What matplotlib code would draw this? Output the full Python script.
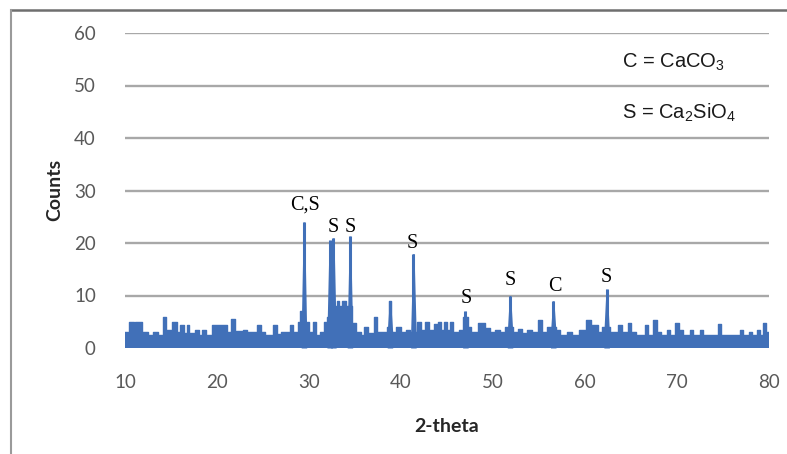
import matplotlib
matplotlib.use("Agg")
import matplotlib.pyplot as plt
from matplotlib.lines import Line2D

# noisy background of the pattern, as steps: level holds from one theta to the next
bg_theta = [10.0, 10.4, 11.0, 11.1, 11.9, 12.5, 13.0, 13.6, 14.1, 14.5, 15.1, 15.6,
            16.0, 16.4, 16.7, 17.0, 17.6, 18.0, 18.4, 18.8, 19.5, 21.1, 21.5, 22.0,
            22.8, 23.3, 24.3, 24.8, 25.2, 26.1, 26.5, 27.0, 27.9, 28.3, 28.8, 29.0,
            29.2, 29.8, 30.0, 30.4, 30.8, 31.2, 31.6, 31.8, 32.0, 32.8, 33.0, 33.3,
            33.6, 34.0, 34.7, 35.1, 35.6, 36.0, 36.4, 37.1, 37.4, 38.0, 38.5, 38.7,
            38.9, 39.5, 40.0, 40.5, 41.0, 41.7, 42.2, 42.6, 43.0, 43.6, 44.0, 44.3,
            44.7, 45.0, 45.3, 45.6, 46.3, 46.7, 47.3, 47.6, 48.4, 49.1, 49.7, 50.2,
            50.8, 51.3, 52.2, 52.7, 53.2, 53.7, 54.2, 54.9, 55.3, 55.9, 56.9, 57.3,
            58.0, 58.6, 59.3, 60.1, 60.6, 61.4, 61.9, 62.7, 63.6, 64.0, 64.7, 65.0,
            65.5, 66.5, 66.8, 67.4, 67.8, 68.3, 68.9, 69.2, 69.8, 70.2, 70.6, 71.4,
            71.7, 72.5, 72.8, 74.5, 74.8, 76.8, 77.2, 77.8, 78.2, 78.7, 79.0, 79.3,
            79.7, 80.0]
bg_counts = [3, 5, 4, 5, 3, 2.5, 3, 2.5, 6, 3.5, 5, 3,
             4.3, 2.8, 4.3, 2.8, 3.5, 2.5, 3.5, 2.5, 4.3, 3, 5.5, 3.2,
             3.5, 3, 4.4, 3, 2.5, 4.4, 2.7, 3, 4.4, 3, 5, 7,
             5, 5, 3, 5, 2.5, 3, 5, 4, 6, 8, 9, 8,
             9, 8, 4.8, 3, 2.5, 4, 2.8, 6, 3, 3, 4, 9,
             3, 4, 3, 3.5, 3, 5, 3.5, 5, 3.5, 4.5, 5, 3.5,
             5, 3.5, 5, 3, 3.5, 6, 4, 3, 4.7, 3.9, 3, 3.5,
             3, 4, 3, 3.6, 2.8, 3.5, 3, 5.3, 3, 4, 3.5, 2.5,
             3, 2.5, 3.5, 5.3, 4.4, 3, 4, 3, 4.4, 3, 4.7, 3,
             2.5, 4.4, 2.5, 5.3, 3, 2.5, 3.5, 2.5, 4.7, 3.5, 2.5, 3.5,
             2.5, 3.5, 2.5, 4.5, 2.5, 3.5, 2.5, 3, 2.5, 3.5, 2.5, 4.7,
             3, 3]

# sharp reflections
peak_theta = [29.45, 32.25, 32.65, 34.45, 38.8, 41.35, 47.0, 51.85, 56.55, 62.35]
peak_counts = [24, 20.5, 21, 21.3, 9, 18, 7, 10, 9, 11.2]

# phase labels over the peaks
label_text = ['C,S', 'S', 'S', 'S', 'S', 'S', 'C', 'S']
label_theta = [29.55, 32.6, 34.45, 41.25, 47.05, 51.9, 56.7, 62.3]
label_counts = [27.2, 23.0, 23.0, 20.0, 9.4, 12.8, 11.8, 13.4]

legend_lines = [r'C = CaCO$_\mathrm{3}$', r'S = Ca$_\mathrm{2}$SiO$_\mathrm{4}$']

xticks = [10, 20, 30, 40, 50, 60, 70, 80]
yticks = [0, 10, 20, 30, 40, 50, 60]

blue = '#4170b8'
grey_txt = '#595959'

plt.rcParams['mathtext.fontset'] = 'custom'
plt.rcParams['mathtext.rm'] = 'Liberation Sans'

fig = plt.figure(figsize=(7.87, 4.54), dpi=100)

# outer chart frame, cut by the page on the right and bottom
fig.add_artist(Line2D([11/787, 1], [1 - 10/454, 1 - 10/454], transform=fig.transFigure,
                      color='#6e6e6e', lw=1.8))
fig.add_artist(Line2D([11/787, 11/787], [0, 1 - 10/454], transform=fig.transFigure,
                      color='#9a9a9a', lw=1.5))

ax = fig.add_axes([125/787, 1 - 348/454, 644/787, 315/454])
ax.set_xlim(10, 80)
ax.set_ylim(0, 60)

ax.fill_between(bg_theta, 0, bg_counts, step='post', color=blue, lw=0, zorder=3)
ax.step(bg_theta, bg_counts, where='post', color=blue, lw=1.0, zorder=3)

hw = 0.3
for p, h in zip(peak_theta, peak_counts):
    ax.fill_between([p - hw, p - 0.07, p + 0.07, p + hw], 0, [3, h, h, 3],
                    color=blue, lw=0, zorder=3)
    ax.vlines(p, 0, h, color=blue, lw=2.2, zorder=3)

for t, x, y in zip(label_text, label_theta, label_counts):
    ax.text(x, y, t, ha='center', va='center', fontsize=14.5,
            family='Liberation Serif', color='black', zorder=4)

ax.text(64.0, 54.5, legend_lines[0], ha='left', va='center', fontsize=14.5,
        family='Liberation Sans', color='#1a1a1a')
ax.text(64.0, 44.8, legend_lines[1], ha='left', va='center', fontsize=14.5,
        family='Liberation Sans', color='#1a1a1a')

ax.set_xticks(xticks)
ax.set_yticks(yticks)
ax.grid(axis='y', color='#a8a8a8', lw=1.7)
ax.set_axisbelow(True)
for s in ax.spines.values():
    s.set_visible(False)
ax.tick_params(length=0, labelsize=13.5, labelcolor=grey_txt)
ax.tick_params(axis='y', pad=21)
ax.tick_params(axis='x', pad=19)
for lab in ax.get_xticklabels() + ax.get_yticklabels():
    lab.set_family('Lato')

fig.text(55/787, 1 - 190/454, 'Counts', rotation=90, ha='center', va='center',
         fontsize=14, fontweight='bold', family='Lato', color='#262626')
fig.text(447/787, 1 - 427/454, '2-theta', ha='center', va='center',
         fontsize=14, fontweight='bold', family='Lato', color='#262626')

fig.savefig('out.png', dpi=100)
